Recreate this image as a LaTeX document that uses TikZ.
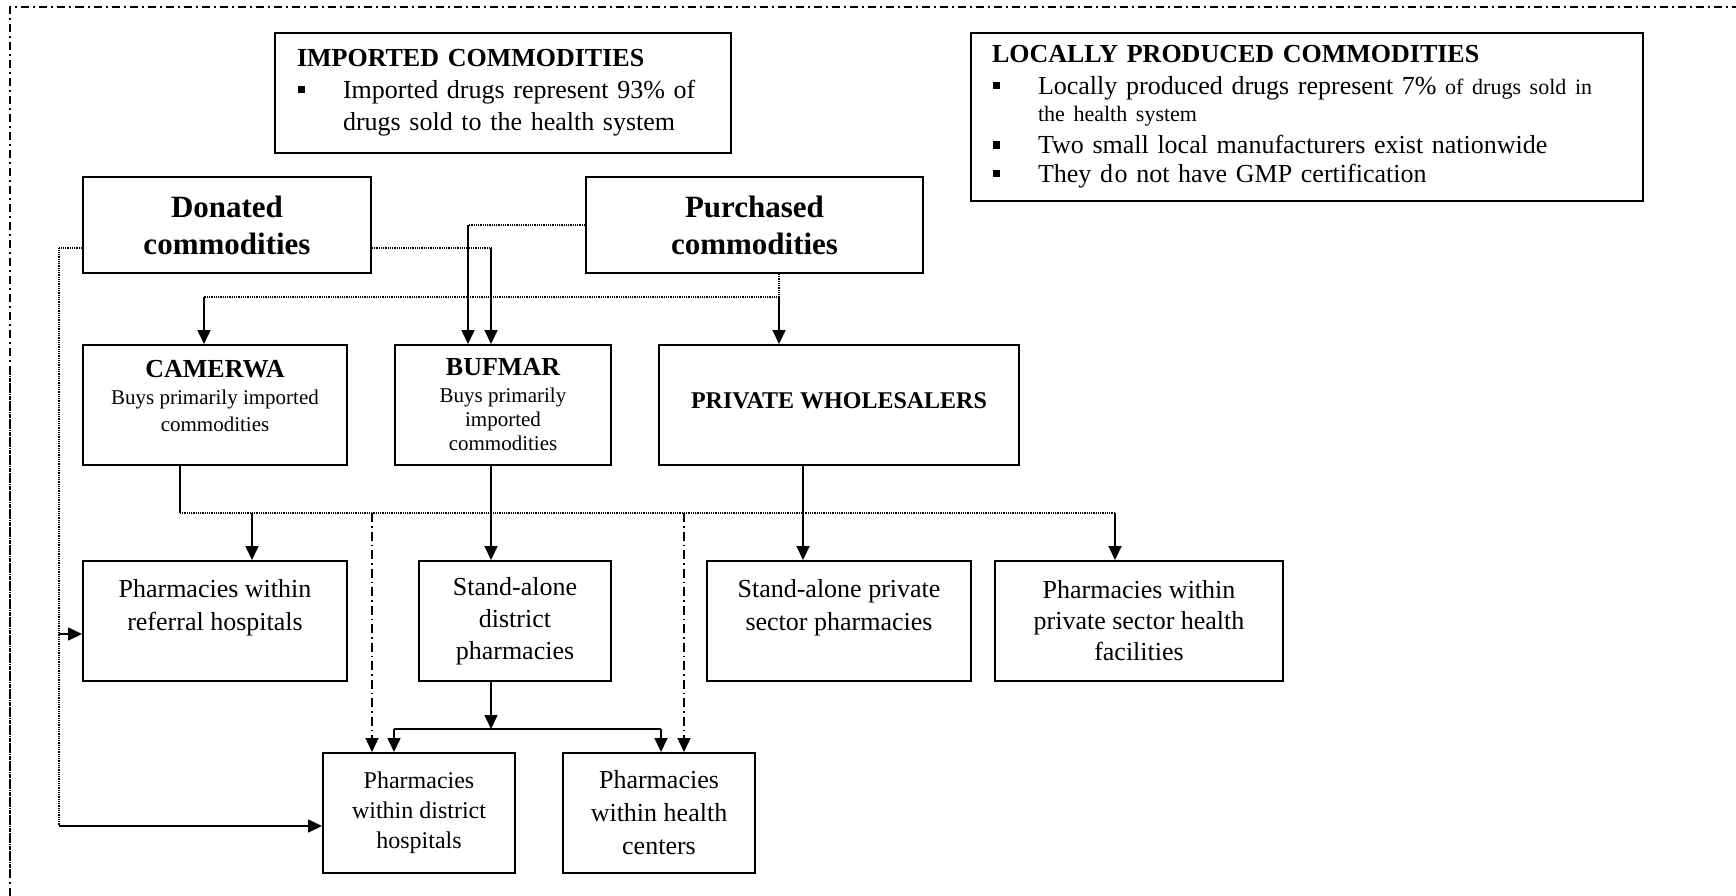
\documentclass[tikz,border=0pt]{standalone}
\usepackage{fontspec}
\setmainfont{Liberation Serif}
\usetikzlibrary{arrows.meta}
\tikzset{
  box/.style={draw, line width=2pt, inner sep=0pt, align=center, font=\fontsize{26}{32}\selectfont},
  conn/.style={line width=1.6pt},
  dotline/.style={line width=1.6pt, dash pattern=on 1pt off 0.8pt},
  dashdotline/.style={line width=1.4pt, dash pattern=on 9pt off 4pt on 1.5pt off 4pt},
  borderline/.style={line width=2pt, dash pattern=on 8pt off 4pt on 2pt off 4pt},
  arr/.style={-{Triangle[length=14pt,width=13pt]}},
}
\newcommand{\sqb}{\makebox[46pt][l]{\hspace{1pt}\rule[5.3pt]{7pt}{7pt}}}
\begin{document}
\begin{tikzpicture}[x=1pt,y=-1pt]
\useasboundingbox (0,0) rectangle (1736,896);
% frame
\draw[borderline] (10,896) -- (10,7.5) -- (1736,7.5);
\draw[dotline] (10,367) -- (10,873);

% info boxes
\node[box, align=left, text width=412pt, inner xsep=22pt, minimum height=120pt] (imp) at (503,93)
 {{\bfseries IMPORTED COMMODITIES}\\
  \sqb Imported drugs represent 93\% of\\
  \hspace*{46pt}drugs sold to the health system};
\node[box, align=left, text width=630pt, inner xsep=21pt, minimum height=168pt] (loc) at (1307,117)
 {{\bfseries LOCALLY PRODUCED COMMODITIES}\\
  \sqb Locally produced drugs represent 7\% {\fontsize{22}{32}\selectfont of drugs sold in}\\[-5pt]
  \hspace*{46pt}{\fontsize{22}{32}\selectfont the health system}\\
  \sqb Two small local manufacturers exist nationwide\\[-3pt]
  \sqb They d\kern1.5pt o not have GMP certification};

% sources
\node[box, minimum width=288pt, minimum height=96pt, font=\fontsize{31}{37}\selectfont\bfseries] (don) at (227,225) {Donated\\commodities};
\node[box, minimum width=337pt, minimum height=96pt, font=\fontsize{31}{37}\selectfont\bfseries] (pur) at (754.5,225) {Purchased\\commodities};

% wholesalers
\node[box, minimum width=264pt, minimum height=120pt, font=\fontsize{21}{27}\selectfont] (cam) at (215,405)
 {{\fontsize{26}{27}\selectfont\bfseries CAMERWA}\\Buys primarily imported\\commodities\\[-9pt]\mbox{}};
\node[box, minimum width=216pt, minimum height=120pt, font=\fontsize{21}{24}\selectfont] (buf) at (503,405)
 {{\fontsize{26}{27}\selectfont\bfseries BUFMAR}\\[3pt]Buys primarily\\imported\\commodities};
\node[box, minimum width=360pt, minimum height=120pt, font=\fontsize{24}{28}\selectfont\bfseries] (pw) at (839,405) {PRIVATE WHOLESALERS\\[-19pt]\mbox{}};

% outlets
\node[box, minimum width=264pt, minimum height=120pt, font=\fontsize{26}{33}\selectfont] (ref) at (215,621) {Pharmacies within\\referral hospitals\\\mbox{}};
\node[box, minimum width=192pt, minimum height=120pt] (sad) at (515,621) {Stand-alone\\district\\pharmacies};
\node[box, minimum width=264pt, minimum height=120pt, font=\fontsize{26}{33}\selectfont] (sap) at (839,621) {Stand-alone private\\sector pharmacies\\\mbox{}};
\node[box, minimum width=288pt, minimum height=120pt, font=\fontsize{26}{31}\selectfont] (pps) at (1139,621) {Pharmacies within\\private sector health\\facilities};
\node[box, minimum width=192pt, minimum height=120pt, font=\fontsize{24}{30}\selectfont] (pdh) at (419,813) {Pharmacies\\within district\\hospitals};
\node[box, minimum width=192pt, minimum height=120pt, font=\fontsize{26}{33}\selectfont] (phc) at (659,813) {Pharmacies\\within health\\centers};

% coordinates
\coordinate (p1) at (779,297);
\coordinate (p2) at (204,297);
\coordinate (p3) at (468,225);
\coordinate (d1) at (491,248);
\coordinate (d2) at (59,248);
\coordinate (d3) at (59,826);
\coordinate (d4) at (59,634);
\coordinate (c1) at (180,513);
\coordinate (c2) at (1115,513);
\coordinate (c3) at (252,513);
\coordinate (w1) at (803,513);
\coordinate (e1) at (372,513);
\coordinate (e2) at (684,513);
\coordinate (s1) at (491,729);
\coordinate (s2) at (394,729);
\coordinate (s3) at (661,729);

% purchased commodities
\draw[dotline] (pur.south -| p1) -- (p1) -- (p2);
\draw[conn,arr] (p2) -- (cam.north -| p2);
\draw[conn,arr] (p1) -- (pw.north -| p1);
\draw[dotline] (pur.west) -- (p3);
\draw[conn,arr] (p3) -- (buf.north -| p3);

% donated commodities
\draw[dotline] (don.east |- d1) -- (d1);
\draw[conn,arr] (d1) -- (buf.north -| d1);
\draw[dotline] (don.west |- d2) -- (d2) -- (d3);
\draw[conn,arr] (d3) -- (pdh.west |- d3);
\draw[conn,arr] (d4) -- (ref.west |- d4);

% wholesalers to outlets
\draw[conn] (cam.south -| c1) -- (c1);
\draw[dotline] (c1) -- (c2);
\draw[conn,arr] (c3) -- (ref.north -| c3);
\draw[conn,arr] (c2) -- (pps.north -| c2);
\draw[conn,arr] (buf.south -| d1) -- (sad.north -| d1);
\draw[conn,arr] (pw.south -| w1) -- (sap.north -| w1);
\draw[dashdotline,arr] (e1) -- (pdh.north -| e1);
\draw[dashdotline,arr] (e2) -- (phc.north -| e2);

% district pharmacies
\draw[conn,arr] (sad.south -| s1) -- (s1);
\draw[conn] (s2) -- (s3);
\draw[conn,arr] (s2) -- (pdh.north -| s2);
\draw[conn,arr] (s3) -- (phc.north -| s3);
\end{tikzpicture}
\end{document}
